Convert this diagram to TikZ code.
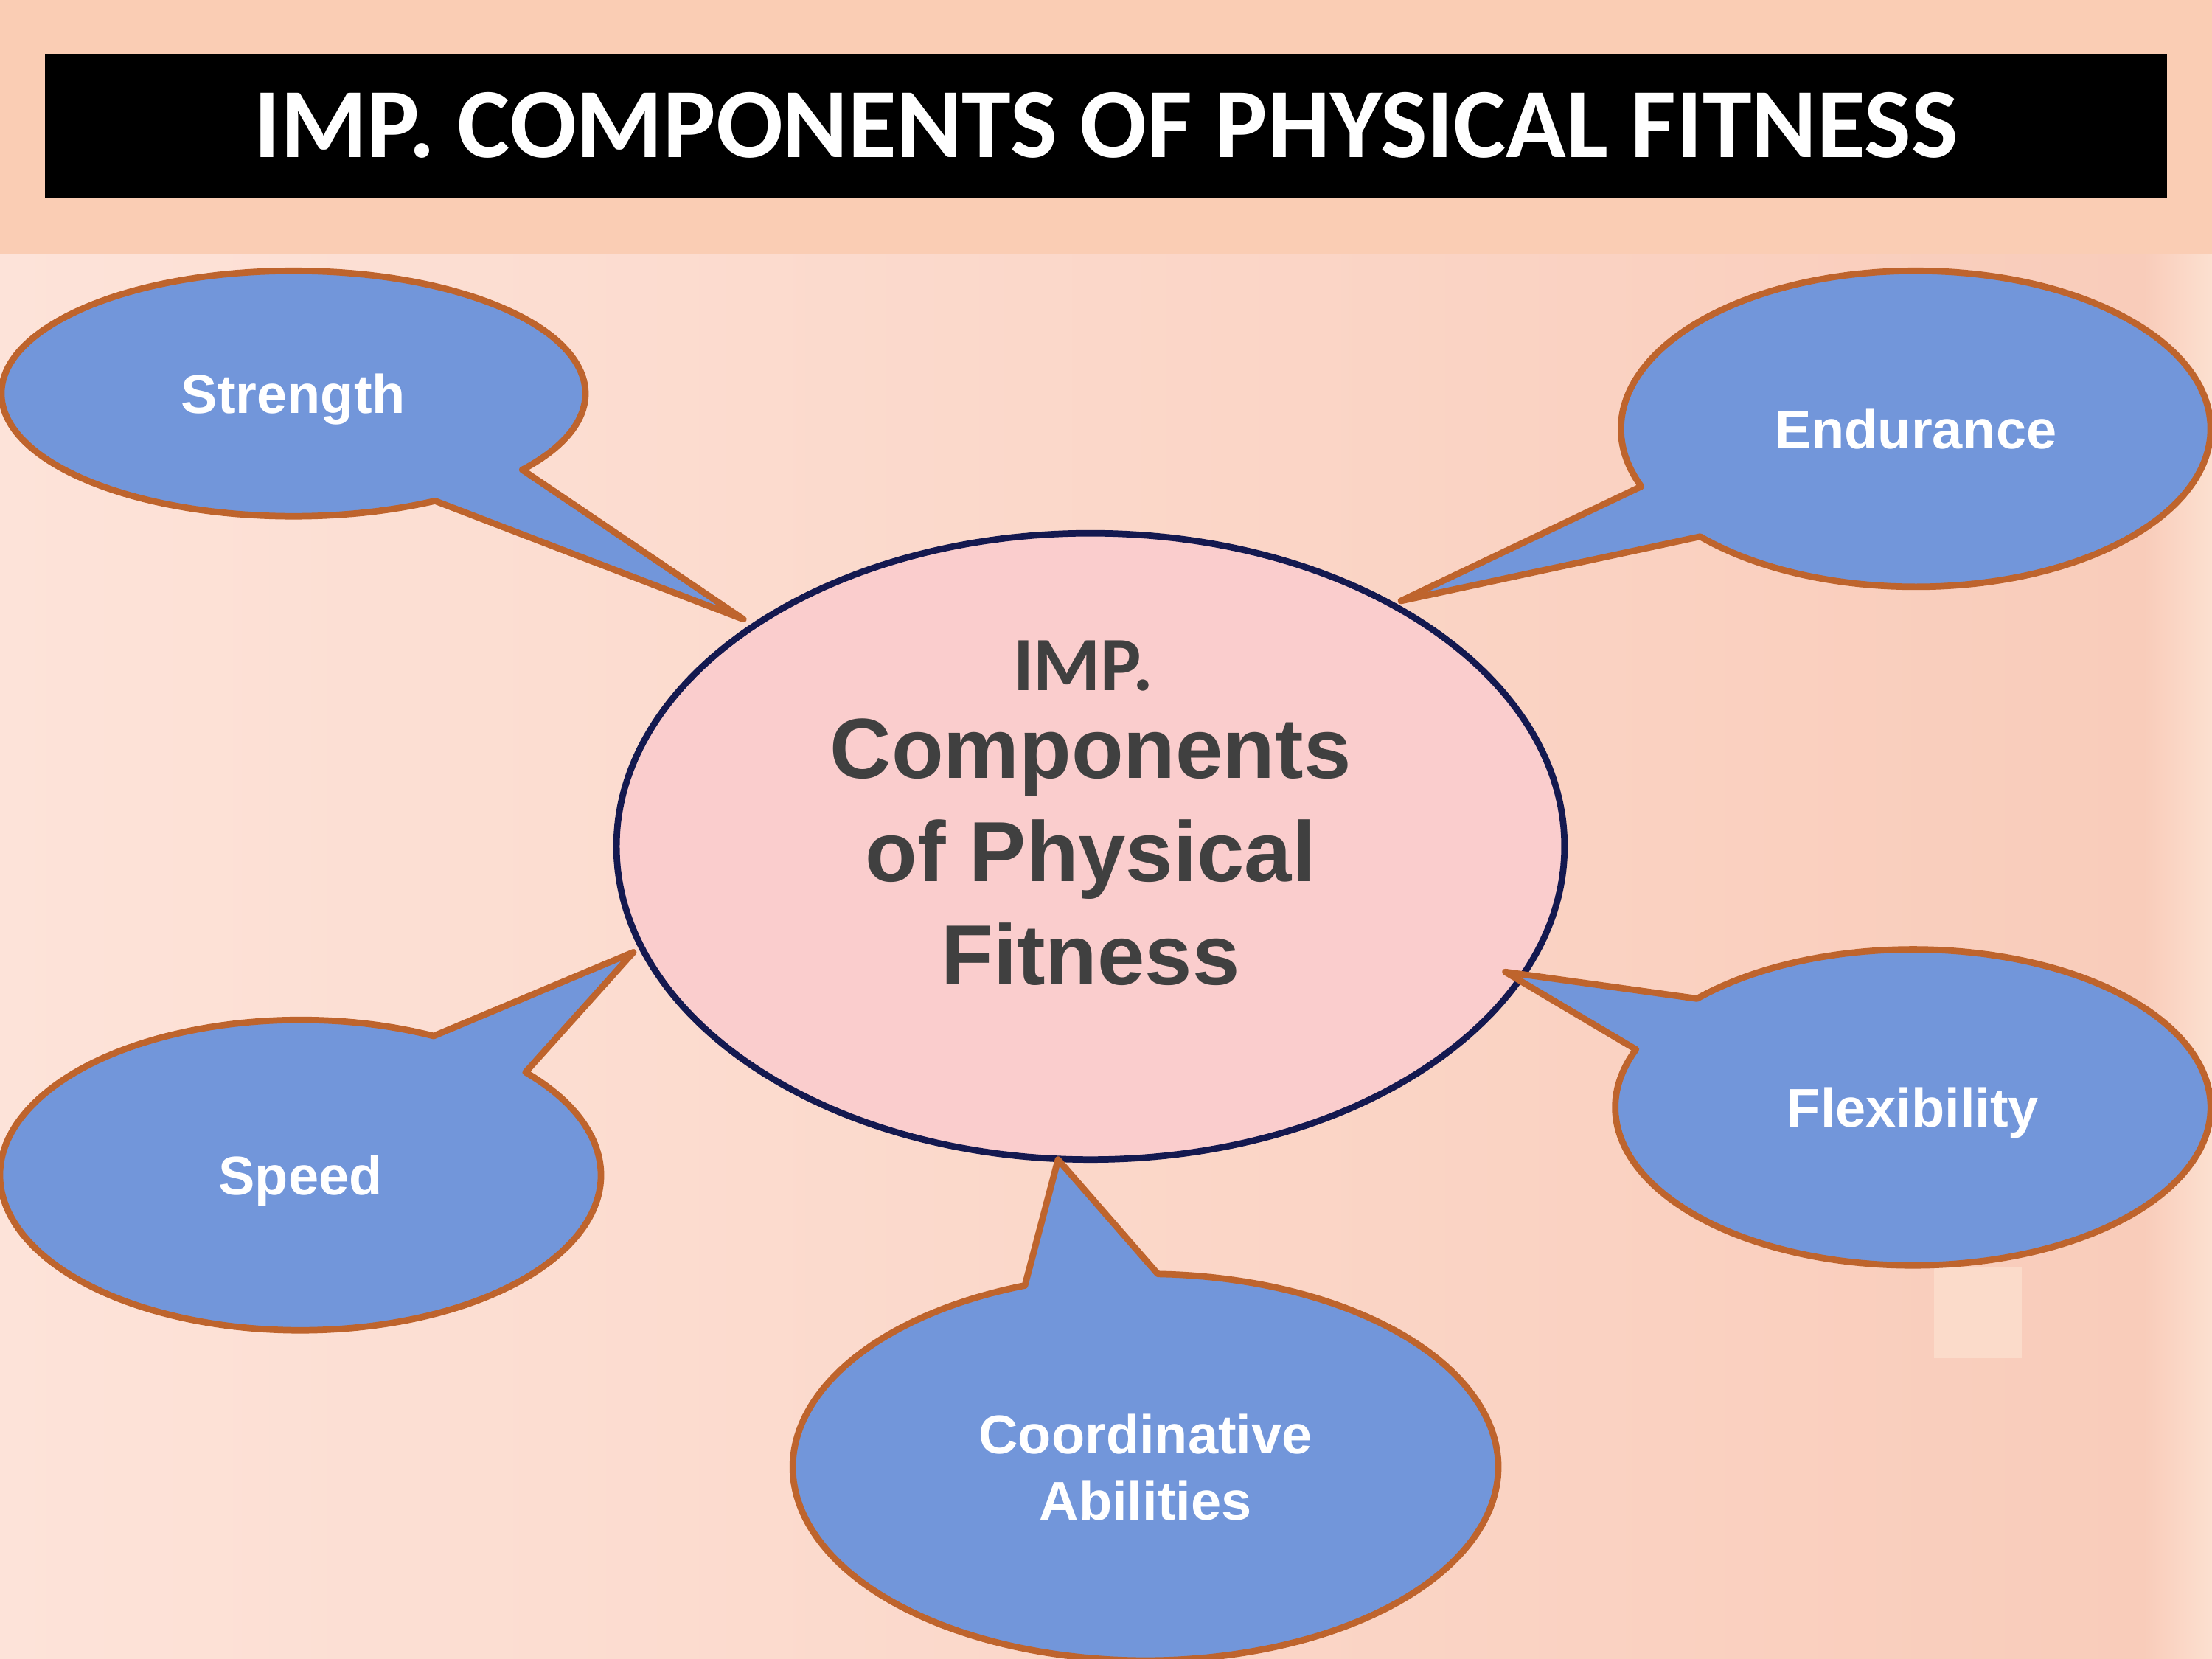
\documentclass[tikz,border=0pt]{standalone}
\usepackage{fontspec}
\setmainfont{Liberation Sans}
\newfontfamily\calibri{Carlito}
\usepackage{tikz}
\usetikzlibrary{positioning, shapes.geometric}
\definecolor{BgPeach}{RGB}{250,205,180}
\definecolor{BgLeft}{RGB}{253,227,217}
\definecolor{BgRight}{RGB}{249,204,186}
\definecolor{BgEdge}{RGB}{252,224,208}
\definecolor{BgPatch}{RGB}{251,219,202}
\definecolor{HubFill}{RGB}{250,205,205}
\definecolor{HubLine}{RGB}{20,25,80}
\definecolor{HubInk}{RGB}{64,64,64}
\definecolor{BubbleFill}{RGB}{114,150,218}
\definecolor{BubbleLine}{RGB}{190,100,45}
\tikzset{
  titlebar/.style={fill=black, text=white, minimum width=15.04cm, minimum height=1.02cm,
    inner sep=0pt, font=\calibri\bfseries\fontsize{20}{24}\selectfont},
  hub/.style={ellipse, draw=HubLine, fill=HubFill, line width=1.3pt,
    minimum width=6.72cm, minimum height=4.44cm, inner sep=0pt},
  hubtag/.style={text=HubInk, font=\calibri\bfseries\fontsize{15.5}{18}\selectfont},
  hubtext/.style={text=HubInk, align=center, font=\bfseries\fontsize{17.2}{20.8}\selectfont},
  bubble/.style={draw=BubbleLine, fill=BubbleFill, line width=1.3pt, line join=round},
  bubbletext/.style={text=white, align=center, text depth=0pt,
    font=\bfseries\fontsize{11}{13.4}\selectfont},
}
% #1 name, #2 centre, #3/#4 radii, #5/#6 arc angles, #7 tip, #8 text
\newcommand{\callout}[8]{%
  \draw[bubble] (#2) ++(#5:#3 and #4)
    arc[start angle=#5, end angle=#6, x radius=#3, y radius=#4] -- (#7) -- cycle;
  \node[bubbletext] (#1) at (#2) {#8};
}

\begin{document}
\begin{tikzpicture}
  \useasboundingbox (0,0) rectangle (15.68,11.76);
  % background
  \shade[left color=BgLeft, right color=BgRight] (0,0) rectangle (15.2,9.96);
  \shade[left color=BgRight, right color=BgEdge] (15.2,0) rectangle (15.68,9.96);
  \fill[BgPeach] (0,9.96) rectangle (15.68,11.76);
  \fill[BgPatch] (13.71,2.13) rectangle (14.33,2.78);
  % title
  \node[titlebar] (title) at (7.84,10.87) {IMP. COMPONENTS OF PHYSICAL FITNESS};
  % centre
  \node[hub] (hub) at (7.73,5.76) {};
  \node[hubtag] (hubtag) at (7.68,7.04) {IMP.};
  \node[hubtext] (hubtext) at (7.73,5.72) {Components\\of Physical\\Fitness};
  % callouts
  \callout{strength}{2.08,8.97}{2.07}{0.87}{-38.4}{299}{5.27,7.37}{Strength}
  \callout{endurance}{13.58,8.72}{2.09}{1.12}{223}{561.4}{9.93,7.50}{Endurance}
  \callout{speed}{2.13,3.43}{2.13}{1.10}{63.7}{401.5}{4.49,5.01}{Speed}
  \callout{flexibility}{13.56,3.91}{2.11}{1.12}{158.5}{496.5}{10.67,4.87}{Flexibility}
  \callout{coord}{8.12,1.36}{2.50}{1.37}{110}{448}{7.50,3.54}{Coordinative\\Abilities}
\end{tikzpicture}
\end{document}
